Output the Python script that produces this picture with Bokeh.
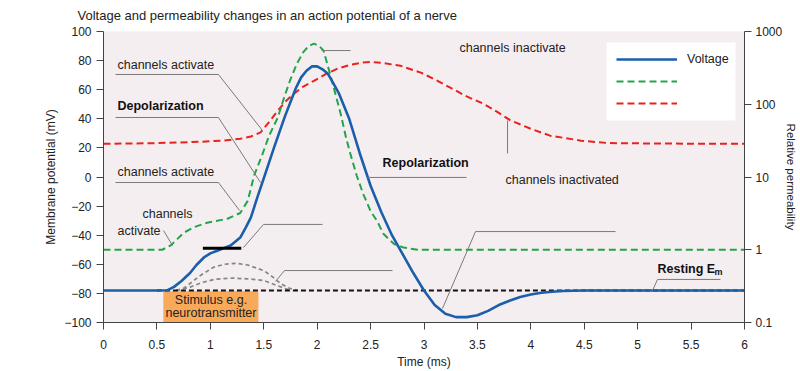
from bokeh.plotting import figure
from bokeh.models import (Range1d, LogScale, LogAxis, FixedTicker, CustomJSTickFormatter,
                          Legend, LegendItem, BoxAnnotation)
from bokeh.embed import file_html
from bokeh.resources import INLINE
from bokeh.core.properties import value

FONT = "Liberation Sans"

# ---------------- data ----------------
# Membrane potential (mV) vs time (ms)
volt_t = [0, 0.5, 0.6, 0.66, 0.73, 0.81, 0.87, 0.94, 1.0, 1.07, 1.19, 1.28, 1.33, 1.38, 1.44,
          1.5, 1.6, 1.7, 1.8, 1.85, 1.9, 1.95, 2.0, 2.05, 2.1, 2.2, 2.3, 2.4, 2.5, 2.6, 2.7,
          2.8, 2.9, 3.0, 3.1, 3.2, 3.3, 3.4, 3.5, 3.6, 3.7, 3.8, 3.9, 4.0, 4.1, 4.2, 4.3,
          4.5, 6.0]
volt_mv = [-78, -78, -77.8, -75.5, -71.5, -66, -60.5, -55.3, -52.5, -50.5, -47, -41.6, -35,
           -27.8, -14, -1, 21, 42, 61, 68.5, 73, 76, 76, 74, 71, 58, 40, 16, -6, -24, -40,
           -53, -66, -78, -88, -94, -96.3, -96.3, -95, -92, -88, -85, -82.5, -80.8, -79.6,
           -78.9, -78.4, -78, -78]

# Green (Na+) relative permeability
na_t = [0, 0.55, 0.63, 0.69, 0.75, 0.85, 0.97, 1.16, 1.28, 1.35, 1.41, 1.49, 1.55,
        1.63, 1.69, 1.75, 1.81, 1.87, 1.92, 1.97, 2.02, 2.06, 2.12, 2.17, 2.22, 2.27, 2.31,
        2.37, 2.43, 2.5, 2.56, 2.62, 2.66, 2.72, 2.81, 2.94, 6.0]
na_perm = [1.0, 1.0, 1.15, 1.4, 1.71, 2.05, 2.35, 2.67, 3.2, 4.7, 10.5, 21, 37,
           65, 123, 220, 360, 520, 630, 680, 630, 545, 263, 140, 74, 35, 21,
           10.5, 5.9, 3.4, 2.5, 1.66, 1.45, 1.2, 1.07, 1.0, 1.0]

# Red (K+) relative permeability
k_t = [0, 0.5, 0.9, 1.1, 1.28, 1.38, 1.47, 1.55, 1.63, 1.7, 1.78, 1.87, 1.97, 2.08, 2.19, 2.3,
       2.43, 2.5, 2.62, 2.78, 2.97, 3.1, 3.25, 3.4, 3.56, 3.7, 3.81, 4.0, 4.18, 4.47, 4.72,
       5.2, 6.0]
k_perm = [28.6, 29.2, 30.5, 31.5, 33.5, 36, 41, 57, 81, 108, 139, 175, 210, 260, 308, 345,
          375, 382, 368, 338, 272, 220, 168, 128, 101, 76, 60, 46, 37, 31.6, 29.3,
          28.8, 28.6]

# Sub-threshold responses (grey dashed)
sub1_t = [0.68, 0.75, 0.81, 0.9, 1.03, 1.13, 1.24, 1.35, 1.5, 1.58, 1.66, 1.74, 1.82]
sub1_mv = [-78, -76.5, -73.2, -68, -62, -60, -59.3, -60.5, -64.3, -68.5, -73.4, -76.5, -78]
sub2_t = [0.68, 0.81, 0.92, 1.05, 1.21, 1.35, 1.5, 1.62, 1.75]
sub2_mv = [-78, -75.7, -72.5, -70.2, -69.5, -70, -71.1, -74.5, -78]

resting_mv = -78
threshold_mv = -48.9
threshold_t = [0.93, 1.29]
stimulus_t = [0.56, 1.45]

x_ticks = [0, 0.5, 1, 1.5, 2, 2.5, 3, 3.5, 4, 4.5, 5, 5.5, 6]
y_ticks = [-100, -80, -60, -40, -20, 0, 20, 40, 60, 80, 100]
perm_ticks = [0.1, 1, 10, 100, 1000]

# annotation texts
ann_text = ["channels activate", "channels activate", "channels", "activate",
            "channels inactivate", "channels inactivated"]
ann_t = [0.131, 0.131, 0.365, 0.131, 3.332, 3.763]
ann_mv = [77.3, 3.1, -25.1, -36.8, 89.0, -2.4]
bold_text = ["Depolarization", "Repolarization", "Resting E"]
bold_t = [0.131, 2.612, 5.186]
bold_mv = [49.1, 9.3, -62.9]

# leader lines
lead_xs = [[0.112, 1.076, 1.488], [0.112, 1.076, 1.470], [0.112, 1.076, 1.273],
           [0.562, 0.646], [1.310, 1.498, 2.050], [1.610, 1.694, 2.705],
           [2.041, 2.312], [2.471, 3.398], [3.782, 3.782],
           [3.173, 3.482, 4.793], [5.139, 5.186, 5.775]]
lead_ys = [[70.45, 70.45, 31.96], [40.9, 40.9, -3.8], [-3.8, -3.8, -23.0],
           [-36.8, -47.1], [-48.5, -32.6, -32.6], [-71.8, -64.3, -64.3],
           [86.9, 86.9], [-0.3, -0.3], [16.2, 38.8],
           [-90.4, -37.5, -37.5], [-78.0, -70.4, -70.4]]

# legend panel extent (time, mV)
legend_box_t = [4.709, 5.916]
legend_box_mv = [38.8, 92.4]

# ---------------- figure ----------------
p = figure(width=800, height=371, output_backend="svg", toolbar_location=None,
           x_range=Range1d(0, 6), y_range=Range1d(-100, 100),
           min_border_left=103, min_border_right=56, min_border_top=31, min_border_bottom=49)
p.extra_y_ranges = {"perm": Range1d(0.1, 1000)}
p.extra_y_scales = {"perm": LogScale()}

p.background_fill_color = "#f5eef1"
p.border_fill_color = "white"
p.outline_line_color = None
p.grid.visible = False

p.title.text = "Voltage and permeability changes in an action potential of a nerve"
p.title.align = "left"
p.title.vertical_align = "top"
p.title.standoff = 14
p.title.offset = -26
p.title.text_font = FONT
p.title.text_font_size = "13px"
p.title.text_font_style = "normal"
p.title.text_color = "#222"

fmt = CustomJSTickFormatter(code="return String(tick).replace('-', '\\u2212');")

def style_axis(ax, standoff):
    ax.axis_line_color = "#444"
    ax.major_tick_line_color = "#444"
    ax.major_tick_out = 7
    ax.major_tick_in = 0
    ax.minor_tick_out = 0
    ax.minor_tick_in = 0
    ax.major_label_text_font = FONT
    ax.major_label_text_font_size = "12px"
    ax.major_label_text_color = "#222"
    ax.major_label_standoff = standoff
    ax.axis_label_text_font = FONT
    ax.axis_label_text_font_size = "12px"
    ax.axis_label_text_font_style = "normal"
    ax.axis_label_text_color = "#222"
    ax.formatter = fmt

p.xaxis.ticker = FixedTicker(ticks=x_ticks)
p.yaxis.ticker = FixedTicker(ticks=y_ticks)
style_axis(p.xaxis[0], 10)
style_axis(p.yaxis[0], 5)
p.xaxis.axis_label = "Time (ms)"
p.xaxis.axis_label_standoff = 3
p.yaxis.axis_label = "Membrane potential (mV)"
p.yaxis.axis_label_standoff = 3

raxis = LogAxis(y_range_name="perm", ticker=FixedTicker(ticks=perm_ticks, minor_ticks=[]))
style_axis(raxis, 4)
raxis.axis_label = "Relative permeability"
raxis.axis_label_text_font_size = "11.5px"
raxis.axis_label_orientation = "vertical"
raxis.axis_label_standoff = 0
p.add_layout(raxis, "right")

# stimulus box
p.quad(left=[stimulus_t[0]], right=[stimulus_t[1]], bottom=[-100], top=[-78.5],
       fill_color="#f8aa5a", line_color=None)

# permeability curves
r_k = p.line(k_t, k_perm, y_range_name="perm", line_color="#e8221c", line_width=2,
             line_dash="7 4")
r_na = p.line(na_t, na_perm, y_range_name="perm", line_color="#22a548", line_width=2,
              line_dash="7 4")

# subthreshold responses
p.line(sub1_t, sub1_mv, line_color="#858585", line_width=1.7, line_dash="4 3")
p.line(sub2_t, sub2_mv, line_color="#858585", line_width=1.7, line_dash="4 3")

# resting level
p.segment(x0=[0.5], y0=[resting_mv], x1=[6], y1=[resting_mv], line_color="#111",
          line_width=1.8, line_dash="5 3")

# voltage
r_v = p.line(volt_t, volt_mv, line_color="#1b5eaa", line_width=2.6)

# threshold bar
p.segment(x0=[threshold_t[0]], y0=[threshold_mv], x1=[threshold_t[1]], y1=[threshold_mv],
          line_color="black", line_width=3)

# leader lines
p.multi_line(xs=lead_xs, ys=lead_ys, line_color="#7a7a7a", line_width=1)

# texts
p.text(x=ann_t, y=ann_mv, text=ann_text, text_font=value(FONT), text_font_size="12.5px",
       text_color="#222", text_align="left", text_baseline="middle")
p.text(x=bold_t, y=bold_mv, text=bold_text, text_font=value(FONT), text_font_size="12.5px",
       text_font_style="bold", text_color="#111", text_align="left", text_baseline="middle")
p.text(x=[5.72], y=[-65.6], text=["m"], text_font=value(FONT), text_font_size="9px",
       text_font_style="bold", text_color="#111", text_align="left", text_baseline="middle")
p.text(x=[1.006, 1.006], y=[-84.2, -93.8], text=["Stimulus e.g.", "neurotransmitter"],
       text_font=value(FONT), text_font_size="12.5px", text_color="#222",
       text_align="center", text_baseline="middle")

# legend panel + legend
p.add_layout(BoxAnnotation(left=legend_box_t[0], right=legend_box_t[1],
                           bottom=legend_box_mv[0], top=legend_box_mv[1],
                           fill_color="white", fill_alpha=1.0, line_color=None))
legend = Legend(items=[LegendItem(label="Voltage", renderers=[r_v]),
                       LegendItem(label="", renderers=[r_na]),
                       LegendItem(label="", renderers=[r_k])],
                location=(513, 209), orientation="vertical",
                padding=0, spacing=2, glyph_height=20, label_height=20, glyph_width=61,
                label_standoff=10, label_width=41, margin=0,
                background_fill_alpha=0.0, border_line_color=None,
                label_text_font=FONT, label_text_font_size="12.5px", label_text_color="#222")
p.add_layout(legend, "center")

open("out.html", "w").write(file_html(p, INLINE))
